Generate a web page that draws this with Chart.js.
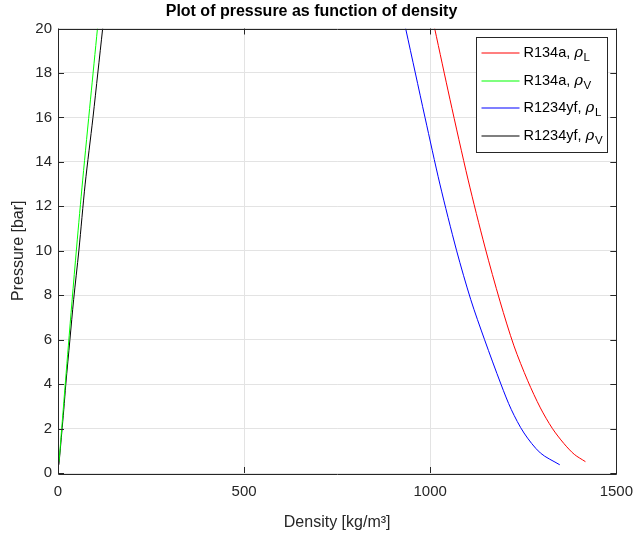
<!DOCTYPE html>
<html>
<head>
<meta charset="utf-8">
<script src="https://cdn.jsdelivr.net/npm/chart.js@4"></script>
<style>
  body { margin: 0; background: #fff; }
</style>
</head>
<body>
<canvas id="pChart" width="643" height="536"></canvas>
<script>
// R134a saturation: pressure [bar], liquid and vapour density [kg/m3]
const pR134a = [0.51, 0.84, 1.33, 2.01, 2.93, 4.15, 5.72, 7.70, 10.17, 13.18, 16.82, 20.0];
const rhoL_R134a = [1417, 1387, 1359, 1328, 1296, 1262, 1225, 1188, 1147, 1102, 1053, 1012];
const rhoV_R134a = [2.8, 4.4, 6.8, 10.0, 14.4, 20.2, 27.8, 37.5, 50.1, 66.3, 87.4, 106];

// R1234yf saturation
const pR1234yf = [0.37, 0.9, 1.8, 2.85, 4.0, 6.0, 7.8, 10.0, 13.0, 16.0, 18.0, 20.0];
const rhoL_R1234yf = [1348, 1296, 1252, 1218, 1190, 1146, 1109, 1071, 1026, 986, 960, 934];
const rhoV_R1234yf = [2.3, 5.3, 10.0, 15.5, 21, 32, 42, 56, 73, 94, 107, 120];

const seriesNames = ['R134a', 'R134a', 'R1234yf', 'R1234yf'];
const seriesSub = ['L', 'V', 'L', 'V'];
const seriesColors = ['#ff0000', '#00ff00', '#0000ff', '#000000'];

const xTicks = [0, 500, 1000, 1500];
const yTicks = [0, 2, 4, 6, 8, 10, 12, 14, 16, 18, 20];

function pts(rho, p) {
  return rho.map((r, i) => ({ x: r, y: p[i] }));
}

const sets = [
  pts(rhoL_R134a, pR134a),
  pts(rhoV_R134a, pR134a),
  pts(rhoL_R1234yf, pR1234yf),
  pts(rhoV_R1234yf, pR1234yf)
];

const family = '"Liberation Sans", Arial, sans-serif';
const font = { family, size: 15 };
const axisColor = '#262626';

// box around the axes with inward tick marks, like MATLAB
const boxPlugin = {
  id: 'box',
  afterDraw(chart) {
    const ctx = chart.ctx, a = chart.chartArea;
    const xs = chart.scales.x, ys = chart.scales.y;
    ctx.save();
    ctx.strokeStyle = axisColor;
    ctx.lineWidth = 1;
    ctx.beginPath();
    ctx.rect(Math.round(a.left) + 0.5, Math.round(a.top) + 0.5,
      Math.round(a.right - a.left), Math.round(a.bottom - a.top));
    xTicks.forEach(v => {
      const px = Math.round(xs.getPixelForValue(v)) + 0.5;
      ctx.moveTo(px, a.bottom); ctx.lineTo(px, a.bottom - 6);
      ctx.moveTo(px, a.top); ctx.lineTo(px, a.top + 6);
    });
    yTicks.forEach(v => {
      const py = Math.round(ys.getPixelForValue(v)) + 0.5;
      ctx.moveTo(a.left, py); ctx.lineTo(a.left + 6, py);
      ctx.moveTo(a.right, py); ctx.lineTo(a.right - 6, py);
    });
    ctx.stroke();
    ctx.restore();
  }
};

// legend box with subscripts, inside the top right of the axes
const legendPlugin = {
  id: 'subLegend',
  afterDraw(chart) {
    const ctx = chart.ctx, a = chart.chartArea;
    const left = 476.5, top = Math.round(a.top) + 8.5;
    const right = Math.round(a.right) - 8.5, h = 115;
    ctx.save();
    ctx.fillStyle = '#fff';
    ctx.strokeStyle = axisColor;
    ctx.lineWidth = 1;
    ctx.fillRect(left, top, right - left, h);
    ctx.strokeRect(left, top, right - left, h);
    ctx.textBaseline = 'middle';
    chart.data.datasets.forEach((ds, i) => {
      const y = Math.round(top + 15.5 + i * 27.7);
      ctx.strokeStyle = ds.borderColor;
      ctx.lineWidth = 1.2;
      ctx.beginPath();
      ctx.moveTo(left + 5, y);
      ctx.lineTo(left + 43, y);
      ctx.stroke();
      ctx.fillStyle = '#000';
      ctx.font = '14.5px ' + family;
      let x = left + 47;
      const t = seriesNames[i] + ', ';
      ctx.fillText(t, x, y);
      x += ctx.measureText(t).width;
      ctx.font = 'italic 15px "DejaVu Serif", serif';
      ctx.fillText('ρ', x, y);
      x += ctx.measureText('ρ').width + 0.5;
      ctx.font = '11.5px ' + family;
      ctx.fillText(seriesSub[i], x, y + 5);
    });
    ctx.restore();
  }
};

const data = {
  datasets: sets.map((s, i) => ({
    label: seriesNames[i] + ', ρ' + seriesSub[i],
    data: s,
    showLine: true,
    borderColor: seriesColors[i],
    backgroundColor: seriesColors[i],
    borderWidth: 1,
    pointRadius: 0,
    tension: 0.3
  }))
};

const config = {
  type: 'scatter',
  data,
  options: {
    responsive: false,
    animation: false,
    layout: { padding: { left: 0, right: 20, top: 0, bottom: 0 } },
    plugins: {
      legend: { display: false },
      tooltip: { enabled: false },
      title: {
        display: true,
        text: 'Plot of pressure as function of density',
        color: '#000',
        font: { family, size: 16, weight: 'bold' },
        padding: { top: 2, bottom: 7.3 }
      }
    },
    scales: {
      x: {
        type: 'linear', min: 0, max: 1500,
        afterBuildTicks: s => { s.ticks = xTicks.map(v => ({ value: v })); },
        afterFit: s => { s.height = 63; },
        grid: { color: '#e3e3e3', drawTicks: false },
        border: { display: false },
        ticks: { color: axisColor, font, padding: 10, maxRotation: 0, callback: v => String(v) },
        title: { display: true, text: 'Density [kg/m³]', color: axisColor,
          font: { family, size: 16 }, padding: { top: 3 } }
      },
      y: {
        type: 'linear', min: 0, max: 20,
        afterBuildTicks: s => { s.ticks = yTicks.map(v => ({ value: v })); },
        afterFit: s => { s.width = 58; },
        grid: { color: '#e3e3e3', drawTicks: false },
        border: { display: false },
        ticks: { color: axisColor, font, padding: 6, callback: v => String(v) },
        title: { display: true, text: 'Pressure [bar]', color: axisColor,
          font: { family, size: 16 }, padding: { top: 9, bottom: 0 } }
      }
    }
  },
  plugins: [boxPlugin, legendPlugin]
};

var pChart = new Chart(document.getElementById('pChart'), config);
</script>
</body>
</html>
